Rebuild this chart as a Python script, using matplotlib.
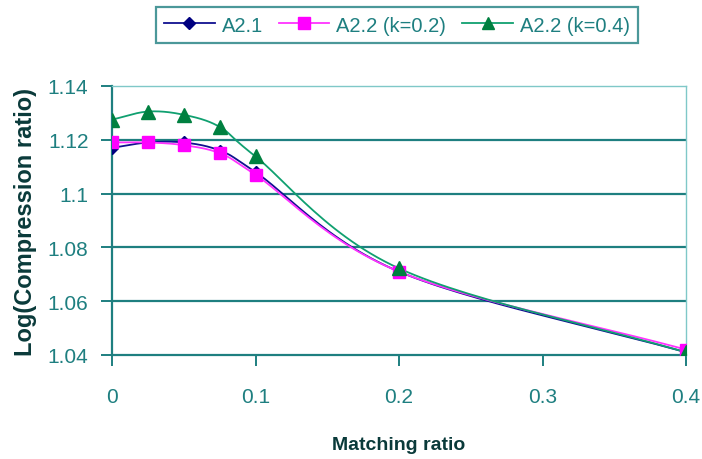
import numpy as np
import matplotlib
matplotlib.use("Agg")
import matplotlib.pyplot as plt
from matplotlib.lines import Line2D

x = [0, 0.025, 0.05, 0.075, 0.1, 0.2, 0.4]
a21 = [1.117, 1.119, 1.119, 1.116, 1.108, 1.071, 1.041]
a22_k02 = [1.119, 1.119, 1.118, 1.115, 1.107, 1.071, 1.042]
a22_k04 = [1.1275, 1.1305, 1.1293, 1.1248, 1.1138, 1.0722, 1.041]
labels = ["A2.1", "A2.2 (k=0.2)", "A2.2 (k=0.4)"]
xticks = [0, 0.1, 0.2, 0.3, 0.4]
xtick_labels = ["0", "0.1", "0.2", "0.3", "0.4"]
yticks = [1.04, 1.06, 1.08, 1.10, 1.12, 1.14]
ytick_labels = ["1.04", "1.06", "1.08", "1.1", "1.12", "1.14"]

TEAL = "#1E7F80"
plt.rcParams['font.family'] = ['Liberation Sans', 'DejaVu Sans']


def smooth(xs, ys, n=30):
    xs = np.asarray(xs, float); ys = np.asarray(ys, float)
    px = np.concatenate([[2 * xs[0] - xs[1]], xs, [2 * xs[-1] - xs[-2]]])
    py = np.concatenate([[2 * ys[0] - ys[1]], ys, [2 * ys[-1] - ys[-2]]])
    ox, oy = [], []
    for i in range(1, len(px) - 2):
        p0, p1, p2, p3 = [np.array([px[j], py[j]]) for j in (i - 1, i, i + 1, i + 2)]
        t = np.linspace(0, 1, n)[:, None]
        c1 = p1 + (p2 - p0) / 6
        c2 = p2 - (p3 - p1) / 6
        pts = ((1 - t) ** 3) * p1 + 3 * ((1 - t) ** 2) * t * c1 + 3 * (1 - t) * t ** 2 * c2 + t ** 3 * p2
        ox.extend(pts[:, 0]); oy.extend(pts[:, 1])
    return ox, oy


fig = plt.figure(figsize=(7.02, 4.60), dpi=100)
ax = fig.add_axes([112 / 702, (460 - 356) / 460, (686 - 112) / 702, (356 - 87) / 460])

series = [
    (a21, "#101090", "#000080", "D", 6),
    (a22_k02, "#FF33FF", "#FF00FF", "s", 9),
    (a22_k04, "#10A070", "#008040", "^", 10),
]
for ys, lc, mc, m, ms in series:
    sx, sy = smooth(x, ys)
    ax.plot(sx, sy, color=lc, lw=1.3, zorder=3)
    ax.plot(x, ys, ls="none", marker=m, color=mc, ms=ms, zorder=4)

ax.set_xlim(0, 0.4)
ax.set_ylim(1.04, 1.14)
ax.set_xticks(xticks)
ax.set_xticklabels(xtick_labels)
ax.set_yticks(yticks)
ax.set_yticklabels(ytick_labels)
for yv in yticks[1:-1]:
    ax.axhline(yv, color=TEAL, lw=1.6, zorder=1)
for s in ("top", "right"):
    ax.spines[s].set_color("#7FC8C8")
    ax.spines[s].set_linewidth(1.0)
for s in ("left", "bottom"):
    ax.spines[s].set_color(TEAL)
    ax.spines[s].set_linewidth(1.6)
ax.tick_params(axis="y", direction="out", length=8, width=1.4, color=TEAL,
               labelcolor=TEAL, labelsize=15, pad=9)
ax.tick_params(axis="x", direction="out", length=8, width=1.4, color=TEAL,
               labelcolor=TEAL, labelsize=15, pad=15)
ax.set_xlabel("Matching ratio", fontsize=14, fontweight="bold", color="#0A3A3A", labelpad=22)
ax.set_ylabel("Log(Compression ratio)", fontsize=17, fontweight="bold", color="#0A3A3A", labelpad=8)

handles = [
    Line2D([0], [0], color="#101090", marker="D", ms=6, mfc="#000080", mec="#000080", lw=1.3),
    Line2D([0], [0], color="#FF33FF", marker="s", ms=8, mfc="#FF00FF", mec="#FF00FF", lw=1.3),
    Line2D([0], [0], color="#10A070", marker="^", ms=8, mfc="#008040", mec="#008040", lw=1.3),
]
leg = fig.legend(handles, labels, loc="center", bbox_to_anchor=(397 / 702, 1 - 26 / 460),
                 ncol=3, frameon=True, fancybox=False, handlelength=2.5,
                 prop={'size': 14.5},
                 columnspacing=0.8, handletextpad=0.35, borderpad=0.4, labelcolor=TEAL)
leg.get_frame().set_edgecolor(TEAL)
leg.get_frame().set_linewidth(1.6)

fig.savefig("out.png", dpi=100)
